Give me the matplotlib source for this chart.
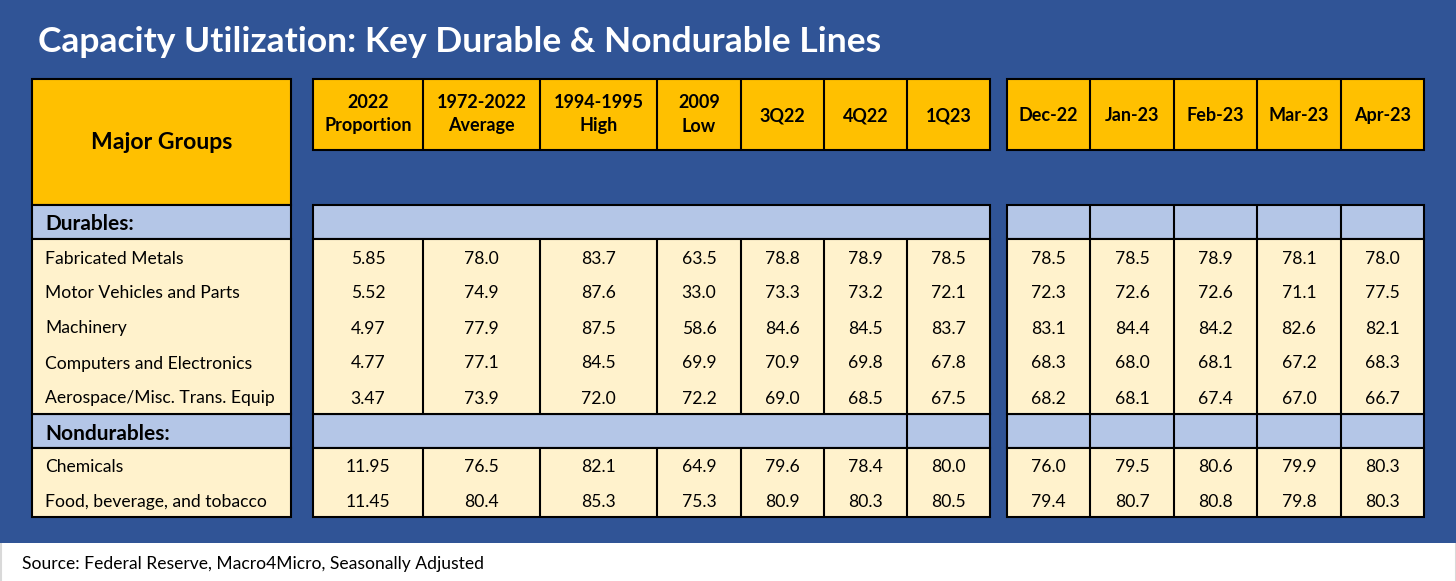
#!/usr/bin/env python3
"""Capacity utilization table: key durable and nondurable lines."""

import matplotlib

matplotlib.use("Agg")
import matplotlib.pyplot as plt
from matplotlib.patches import Rectangle

TITLE = "Capacity Utilization: Key Durable & Nondurable Lines"
SOURCE = "Source: Federal Reserve, Macro4Micro, Seasonally Adjusted"

headers_mid = ["2022\nProportion", "1972-2022\nAverage", "1994-1995\nHigh", "2009\nLow", "3Q22", "4Q22", "1Q23"]
headers_right = ["Dec-22", "Jan-23", "Feb-23", "Mar-23", "Apr-23"]

durables = ["Fabricated Metals", "Motor Vehicles and Parts", "Machinery",
            "Computers and Electronics", "Aerospace/Misc. Trans. Equip"]
nondurables = ["Chemicals", "Food, beverage, and tobacco"]

durables_mid = [
    ["5.85", "78.0", "83.7", "63.5", "78.8", "78.9", "78.5"],
    ["5.52", "74.9", "87.6", "33.0", "73.3", "73.2", "72.1"],
    ["4.97", "77.9", "87.5", "58.6", "84.6", "84.5", "83.7"],
    ["4.77", "77.1", "84.5", "69.9", "70.9", "69.8", "67.8"],
    ["3.47", "73.9", "72.0", "72.2", "69.0", "68.5", "67.5"],
]
durables_right = [
    ["78.5", "78.5", "78.9", "78.1", "78.0"],
    ["72.3", "72.6", "72.6", "71.1", "77.5"],
    ["83.1", "84.4", "84.2", "82.6", "82.1"],
    ["68.3", "68.0", "68.1", "67.2", "68.3"],
    ["68.2", "68.1", "67.4", "67.0", "66.7"],
]
nondurables_mid = [
    ["11.95", "76.5", "82.1", "64.9", "79.6", "78.4", "80.0"],
    ["11.45", "80.4", "85.3", "75.3", "80.9", "80.3", "80.5"],
]
nondurables_right = [
    ["76.0", "79.5", "80.6", "79.9", "80.3"],
    ["79.4", "80.7", "80.8", "79.8", "80.3"],
]

# layout in image pixels
W, H = 1456, 581
LEFT_X = (32, 291)
MID_X = [313, 423, 540, 657, 741, 824, 907, 990]
RIGHT_X = [1007, 1090, 1174, 1257, 1341, 1424]
TOP, HEAD_BOT, LEFT_HEAD_BOT = 79, 150, 205
DUR_BAND = (205, 239)
DUR_ROWS = (239, 414)
NON_BAND = (414, 448)
NON_ROWS = (448, 517)

NAVY = "#305496"
GOLD = "#FFC000"
BAND = "#B4C6E7"
CREAM = "#FFF2CC"
LW = 1.5
BODY = 12.6
HEAD = 13.0

plt.rcParams["font.family"] = ["Lato", "DejaVu Sans"]

fig = plt.figure(figsize=(W / 100, H / 100), dpi=100, facecolor="white")
ax = fig.add_axes([0, 0, 1, 1])
ax.set_xlim(0, W)
ax.set_ylim(H, 0)
ax.axis("off")


def box(x0, x1, y0, y1, color, lw=LW, z=2):
    ax.add_patch(Rectangle((x0, y0), x1 - x0, y1 - y0, facecolor=color,
                           edgecolor="black", linewidth=lw, zorder=z))


def vlines(xs, y0, y1):
    ax.vlines(xs, y0, y1, color="black", linewidth=LW, zorder=3)


def label(x, y, s, **kw):
    # baseline anchoring keeps rows level whatever the descenders do
    kw.setdefault("fontsize", BODY)
    kw.setdefault("color", "black")
    ax.text(x, y, s, va="baseline", zorder=4, **kw)


def row_y(span, n):
    step = (span[1] - span[0]) / n
    return [span[0] + step * (i + 0.5) + 7 for i in range(n)]


def write_rows(xs, span, rows):
    for y, row in zip(row_y(span, len(rows)), rows):
        for i, val in enumerate(row):
            label((xs[i] + xs[i + 1]) / 2, y, val, ha="center")


ax.add_patch(Rectangle((0, 0), W, 543, facecolor=NAVY, edgecolor="none", zorder=1))
ax.vlines([0.5, W - 0.5], 543, H, color="#d9d9d9", linewidth=1.5, zorder=1)
label(38, 52.5, TITLE, color="white", fontsize=25.5, fontweight="bold", ha="left")
label(22, 569, SOURCE, ha="left")

# left block
box(*LEFT_X, TOP, LEFT_HEAD_BOT, GOLD)
label(sum(LEFT_X) / 2, 149, "Major Groups", fontsize=16.6, fontweight="bold", ha="center")
for span, name in ((DUR_BAND, "Durables:"), (NON_BAND, "Nondurables:")):
    box(*LEFT_X, *span, BAND)
    label(45, sum(span) / 2 + 8.5, name, fontsize=15, fontweight="bold", ha="left")
for span, labels in ((DUR_ROWS, durables), (NON_ROWS, nondurables)):
    box(*LEFT_X, *span, CREAM)
    for y, name in zip(row_y(span, len(labels)), labels):
        label(45, y, name, ha="left")

# middle and right blocks
for xs, heads, dur, non in ((MID_X, headers_mid, durables_mid, nondurables_mid),
                            (RIGHT_X, headers_right, durables_right, nondurables_right)):
    box(xs[0], xs[-1], TOP, HEAD_BOT, GOLD)
    vlines(xs[1:-1], TOP, HEAD_BOT)
    for i, head in enumerate(heads):
        cx = (xs[i] + xs[i + 1]) / 2
        lines = head.split("\n")
        ys = [107.5, 131.5] if len(lines) == 2 else [121]
        for y, line in zip(ys, lines):
            label(cx, y, line, fontsize=HEAD, fontweight="bold", ha="center")
    box(xs[0], xs[-1], *DUR_BAND, BAND)
    box(xs[0], xs[-1], *NON_BAND, BAND)
    box(xs[0], xs[-1], *DUR_ROWS, CREAM)
    box(xs[0], xs[-1], *NON_ROWS, CREAM)
    vlines(xs[1:-1], DUR_ROWS[0], DUR_ROWS[1])
    vlines(xs[1:-1], NON_ROWS[0], NON_ROWS[1])
    write_rows(xs, DUR_ROWS, dur)
    write_rows(xs, NON_ROWS, non)

# band dividers: the middle block only splits off 1Q23 in the nondurables band
vlines(RIGHT_X[1:-1], *DUR_BAND)
vlines(RIGHT_X[1:-1], *NON_BAND)
vlines(MID_X[-2], *NON_BAND)

fig.savefig("out.png", dpi=100)
